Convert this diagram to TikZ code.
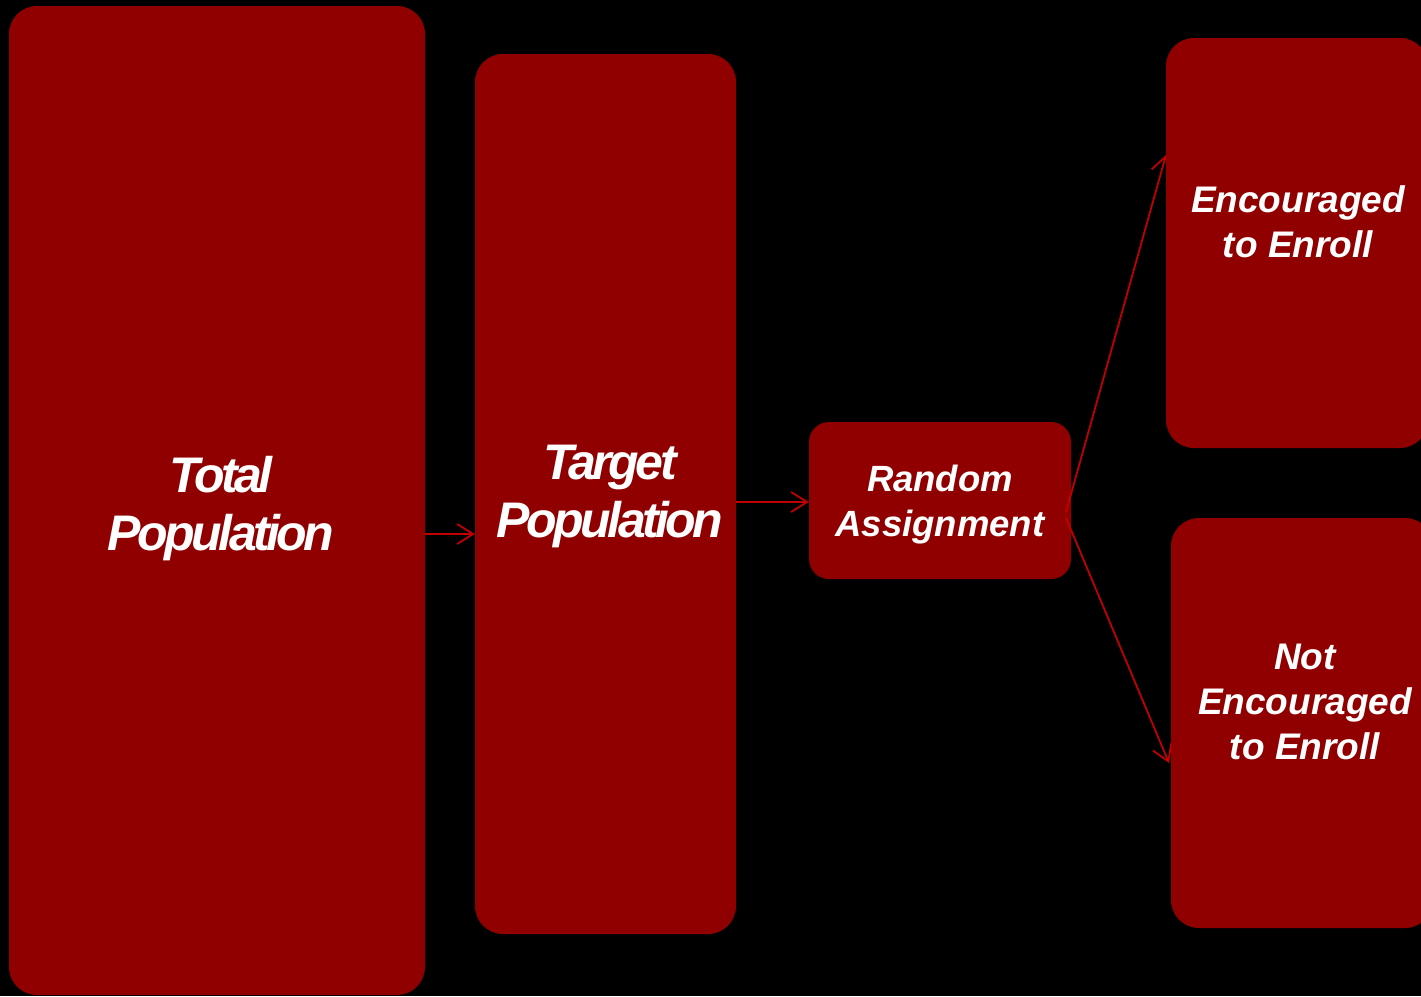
\documentclass[tikz,border=0pt]{standalone}
\usepackage{fontspec}
\setmainfont{Liberation Sans}
\newfontfamily\tightfont[LetterSpace=-7]{Liberation Sans}
\usetikzlibrary{arrows.meta}
\definecolor{boxred}{HTML}{900000}
\definecolor{linered}{HTML}{C00000}
\tikzset{
  box/.style={fill=boxred, draw=none, rounded corners=#1, inner sep=0pt},
  box/.default=28pt,
  lbl/.style={text=white, font=\bfseries\itshape, align=center, inner sep=0pt},
  arr/.style={draw=linered, line width=1.8pt, -{Straight Barb[length=16pt,width=20pt,line width=1.8pt]}},
}
\begin{document}
\begin{tikzpicture}[x=1pt,y=-1pt]
\fill[black] (0,0) rectangle (1421,996);
\useasboundingbox (0,0) rectangle (1421,996);
% boxes behind arrows
\node[box, minimum width=416pt, minimum height=989pt] (tot) at (217,500.5) {};
\node[box, minimum width=261pt, minimum height=880pt] (tgt) at (605.5,494) {};
\node[box=20pt, minimum width=262pt, minimum height=157pt] (rnd) at (940,500.5) {};
\node[lbl, font=\fontsize{50}{58}\selectfont\bfseries\itshape\tightfont] (totl) at (221,509) {Total\\Population};
\node[lbl, font=\fontsize{50}{58}\selectfont\bfseries\itshape\tightfont] (tgtl) at (610,496) {Target\\Population};
\node[lbl, font=\fontsize{36.5}{45}\selectfont\bfseries\itshape] (rndl) at (940,505) {Random\\Assignment};
% arrows
\coordinate (s1) at (1066,512);
\coordinate (s2) at (1066,518);
\coordinate (e1) at (1166,155);
\coordinate (e2) at (1169,763);
\draw[arr] (tot.east |- 0,534) -- (tgt.west |- 0,534);
\draw[arr] (tgt.east |- 0,502) -- (rnd.west |- 0,502);
\draw[arr] (s1) -- (e1);
\draw[arr] (s2) -- (e2);
% right boxes on top
\node[box, minimum width=262pt, minimum height=410pt] (enc) at (1297,243) {};
\node[box, minimum width=262pt, minimum height=410pt] (nenc) at (1302,723) {};
\node[lbl, font=\fontsize{37}{45}\selectfont\bfseries\itshape] (encl) at (1298,222) {Encouraged\\to Enroll};
\node[lbl, font=\fontsize{37}{45}\selectfont\bfseries\itshape] (nencl) at (1305,702) {Not\\Encouraged\\to Enroll};
\end{tikzpicture}
\end{document}
